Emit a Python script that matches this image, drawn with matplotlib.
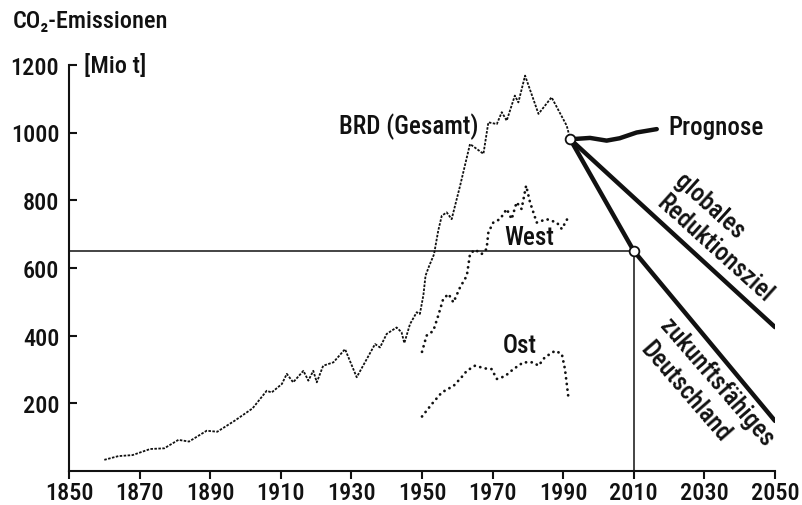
import matplotlib
matplotlib.use('Agg')
import matplotlib.pyplot as plt
from matplotlib import font_manager as fm

# ---------------- data ----------------
brd_years = [1860, 1864, 1868, 1873, 1877, 1881, 1884, 1889, 1892, 1897, 1902, 1906,
             1907.4, 1910.3, 1911.7, 1913.5, 1916.4, 1917.8, 1919.2, 1920.2, 1922, 1924.9,
             1928.2, 1931.5, 1936.7, 1938.1, 1940, 1942.8, 1944.2, 1945, 1946.6, 1948.5,
             1949.4, 1950.4, 1951, 1952, 1953.4, 1954.6, 1955.6, 1957, 1958.4, 1960.8,
             1963.6, 1967.4, 1968.8, 1971.2, 1972.6, 1974, 1976.3, 1977.3, 1979.2, 1983,
             1986.7, 1991, 1992]
brd_values = [33, 44, 47, 65, 67, 92, 87, 119, 116, 149, 185, 237,
              232, 257, 287, 262, 296, 267, 296, 262, 311, 321,
              360, 277, 375, 365, 405, 424, 410, 378, 434, 469,
              464, 520, 577, 605, 640, 710, 754, 764, 744, 843,
              966, 937, 1030, 1025, 1060, 1035, 1109, 1089, 1168, 1055,
              1104, 1020, 980]

west_years = [1950, 1951.3, 1953.2, 1954.6, 1956, 1957.5, 1958.9, 1960.8, 1962.7, 1963.6,
              1965, 1966.9, 1968.3, 1968.8, 1970.2, 1972.1, 1974, 1975.4, 1976.8, 1978.2,
              1979.5, 1980.6, 1982.5, 1985.3, 1988.2, 1989.6, 1991.5]
west_values = [352, 400, 414, 459, 508, 523, 498, 543, 577, 641,
               654, 641, 656, 705, 734, 744, 774, 744, 794, 774,
               843, 794, 734, 744, 734, 715, 751]

ost_years = [1950, 1952.8, 1955.6, 1959, 1961.2, 1962.7, 1965, 1967.9, 1969.7, 1971.2,
             1973.5, 1975.9, 1978.7, 1981.5, 1983, 1984.8, 1987.7, 1989.6, 1990.5, 1991.5]
ost_values = [161, 198, 232, 252, 277, 296, 311, 303, 301, 272,
              280, 301, 321, 321, 311, 336, 355, 346, 301, 215]

prog_years = [1992, 1997.6, 2002.3, 2006, 2010.8, 2016.5]
prog_values = [980, 984, 976, 983, 1000, 1010]

global_years = [1992, 2050]
global_values = [980, 425]

zukunft_years = [1992, 2010, 2050]
zukunft_values = [980, 650, 148]

ref_year, ref_value = 2010, 650
start_year, start_value = 1992, 980

x_ticks = list(range(1850, 2051, 20))
y_ticks = [200, 400, 600, 800, 1000, 1200]

# ---------------- fonts ----------------
ttf = fm.fontManager.ttflist
names = {f.name for f in ttf}
stretch = 'normal'
if 'Roboto Condensed' in names:
    FONT, COND = 'Roboto Condensed', True
elif 'Liberation Sans Narrow' in names:
    FONT, COND = 'Liberation Sans Narrow', True
elif any('DejaVuSansCondensed' in f.fname for f in ttf):
    FONT, COND, stretch = 'DejaVu Sans', True, 'condensed'
else:
    FONT, COND = 'Roboto', False
plt.rcParams['font.family'] = [FONT, 'DejaVu Sans']
plt.rcParams['font.stretch'] = stretch
plt.rcParams['font.weight'] = 'medium'
TS = 17.5 if COND else 15
LS = 18 if COND else 15

INK = '#111111'

# ---------------- figure ----------------
fig = plt.figure(figsize=(8.03, 5.06), dpi=100)
fig.patch.set_facecolor('white')
ax = fig.add_axes([69/803, 34/506, 706/803, 406.2/506])
ax.set_xlim(1850, 2050)
ax.set_ylim(0, 1200)

for s in ['top', 'right']:
    ax.spines[s].set_visible(False)
for s in ['left', 'bottom']:
    ax.spines[s].set_linewidth(1.5)
    ax.spines[s].set_color(INK)

ax.set_xticks(x_ticks)
ax.set_yticks(y_ticks)
ax.tick_params(axis='x', direction='out', length=6, width=1.5, pad=1,
               labelsize=TS, colors=INK)
ax.tick_params(axis='y', direction='in', length=6, width=1.5, pad=7,
               labelsize=TS, colors=INK)

# reference lines
ax.plot([1850, ref_year], [ref_value, ref_value], color=INK, lw=1.1, zorder=2)
ax.plot([ref_year, ref_year], [0, ref_value], color=INK, lw=1.1, zorder=2)

# history
ax.plot(brd_years, brd_values, color=INK, lw=1.3, linestyle=(0, (1.4, 0.8)), zorder=3)
ax.plot(west_years, west_values, color=INK, lw=2.0, linestyle=(0, (0.05, 2.0)),
        dash_capstyle='round', zorder=3)
ax.plot(ost_years, ost_values, color=INK, lw=2.0, linestyle=(0, (0.05, 2.0)),
        dash_capstyle='round', zorder=3)

# scenarios
ax.plot(prog_years, prog_values, color=INK, lw=3.2, solid_capstyle='round', zorder=4)
ax.plot(global_years, global_values, color=INK, lw=3.2, solid_capstyle='round', zorder=4)
ax.plot(zukunft_years, zukunft_values, color=INK, lw=3.2, solid_capstyle='round',
        solid_joinstyle='round', zorder=4)

ax.plot([start_year, ref_year], [start_value, ref_value], linestyle='none', marker='o',
        markersize=7, markerfacecolor='white', markeredgecolor=INK, markeredgewidth=1.3,
        zorder=6, clip_on=False)

# labels
ax.text(1946.3, 1019, 'BRD (Gesamt)', fontsize=LS, ha='center', va='center', color=INK)
ax.text(1980.3, 691, 'West', fontsize=LS, ha='center', va='center', color=INK)
ax.text(1977.8, 372, 'Ost', fontsize=LS, ha='center', va='center', color=INK)
ax.text(2019.7, 1015, 'Prognose', fontsize=LS, ha='left', va='center', color=INK)

ax.text(2031.6, 783, 'globales', fontsize=LS, ha='center', va='center', rotation=-42,
        rotation_mode='anchor', color=INK)
ax.text(2032.9, 660, 'Reduktionsziel', fontsize=LS, ha='center', va='center', rotation=-42,
        rotation_mode='anchor', color=INK)
ax.text(2033.6, 263, 'zukunftsfähiges', fontsize=LS, ha='center', va='center', rotation=-49,
        rotation_mode='anchor', color=INK)
ax.text(2024.6, 237, 'Deutschland', fontsize=LS, ha='center', va='center', rotation=-49,
        rotation_mode='anchor', color=INK)

fig.text(13/803, 1 - 22/506, 'CO₂-Emissionen', fontsize=TS, ha='left', va='center', color=INK)
fig.text(84/803, 1 - 66/506, '[Mio t]', fontsize=TS, ha='left', va='center', color=INK)

fig.savefig('out.png', dpi=100, facecolor='white')
